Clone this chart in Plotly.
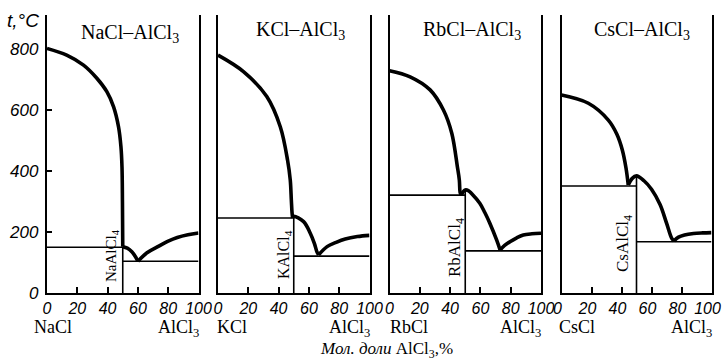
import plotly.graph_objects as go

# ---------------- data (mol % AlCl3, temperature °C) ----------------
systems = ["NaCl", "KCl", "RbCl", "CsCl"]
compounds = ["NaAlCl<sub>4</sub>", "KAlCl<sub>4</sub>", "RbAlCl<sub>4</sub>", "CsAlCl<sub>4</sub>"]
compound_x = [50, 50, 50, 50]
compound_mp = [152, 251, 338, 384]
eutectic_left_t = [150, 246, 321, 351]
eutectic_right_t = [104, 121, 138, 168]

nacl_liq_x = [0, 13, 24.1, 32.9, 39.5, 43.9, 47.2, 48.8, 49.5, 49.8, 50]
nacl_liq_t = [802, 780, 747, 704, 660, 611, 545, 480, 414, 300, 152]
nacl_cmp_x = [50, 53, 56, 58.5, 60]
nacl_cmp_t = [152, 147, 135, 118, 104]
nacl_al_x = [60, 66, 72.8, 80, 86, 93, 100]
nacl_al_t = [104, 132, 151, 170, 182, 191, 197]

kcl_liq_x = [0, 16.8, 32.2, 41.1, 45.9, 47.7, 48.4, 48.9, 49.3]
kcl_liq_t = [780, 726, 644, 545, 436, 370, 305, 262, 246]
kcl_cmp_x = [49.3, 50, 56.5, 60.9, 63.6, 65.3, 66.4]
kcl_cmp_t = [246, 251, 234, 196, 163, 135, 125]
kcl_al_x = [66.4, 72, 78, 84, 92, 100]
kcl_al_t = [125, 152, 166, 177, 185, 189]

rbcl_liq_x = [0, 13.6, 26.8, 35.6, 41.1, 44.8, 46.1, 46.6, 47.3]
rbcl_liq_t = [729, 709, 666, 600, 524, 414, 370, 330, 321]
rbcl_cmp_x = [47.3, 49, 50, 52, 54, 59.6, 63, 66.3, 70.7, 73]
rbcl_cmp_t = [321, 334, 338, 336, 327, 294, 263, 228, 174, 141]
rbcl_al_x = [73, 76, 79.5, 84, 88.3, 94, 100]
rbcl_al_t = [141, 156, 168, 181, 190, 194, 196]

cscl_liq_x = [0, 17.9, 31.2, 37, 40.5, 43, 44.5]
cscl_liq_t = [649, 622, 567, 520, 470, 410, 354]
cscl_cmp_x = [44.5, 47, 50, 55, 60, 65.7, 70.1, 73.5, 75]
cscl_cmp_t = [354, 375, 384, 368, 340, 290, 228, 179, 171]
cscl_al_x = [75, 78, 82, 88, 94, 100]
cscl_al_t = [171, 183, 190, 195, 197, 198]

liq_x = [nacl_liq_x, kcl_liq_x, rbcl_liq_x, cscl_liq_x]
liq_t = [nacl_liq_t, kcl_liq_t, rbcl_liq_t, cscl_liq_t]
cmp_x = [nacl_cmp_x, kcl_cmp_x, rbcl_cmp_x, cscl_cmp_x]
cmp_t = [nacl_cmp_t, kcl_cmp_t, rbcl_cmp_t, cscl_cmp_t]
al_x = [nacl_al_x, kcl_al_x, rbcl_al_x, cscl_al_x]
al_t = [nacl_al_t, kcl_al_t, rbcl_al_t, cscl_al_t]

x_ticks = [0, 20, 40, 60, 80, 100]
y_ticks = [0, 200, 400, 600, 800]

# ---------------- layout helpers ----------------
W, H = 722, 361
def PX(p):
    return p / W
def PY(p):
    return 1 - p / H

panel_px = [(47, 198.5), (218, 369.5), (389.5, 541), (561.5, 711.5)]
tick_shift = [0, 0, 0, -4]
bottom_px, top_px = 293, 15
ymax = (bottom_px - top_px) / 61 * 200

SANS = "Liberation Sans, Arial, sans-serif"
SERIF = "Liberation Serif, Times New Roman, serif"

fig = go.Figure()
thin = dict(color="black", width=1.6)

for i in range(4):
    xa = "x" if i == 0 else f"x{i+1}"
    ya = "y" if i == 0 else f"y{i+1}"
    cx = compound_x[i]
    fig.add_trace(go.Scatter(x=[0, cx], y=[eutectic_left_t[i]] * 2, mode="lines",
                             line=thin, xaxis=xa, yaxis=ya, showlegend=False))
    fig.add_trace(go.Scatter(x=[cx, 100], y=[eutectic_right_t[i]] * 2, mode="lines",
                             line=thin, xaxis=xa, yaxis=ya, showlegend=False))
    fig.add_trace(go.Scatter(x=[cx, cx], y=[0, compound_mp[i]], mode="lines",
                             line=thin, xaxis=xa, yaxis=ya, showlegend=False))
    for xs, ts in ((liq_x[i], liq_t[i]), (cmp_x[i], cmp_t[i]), (al_x[i], al_t[i])):
        fig.add_trace(go.Scatter(x=xs, y=ts, mode="lines",
                                 line=dict(color="black", width=3.6, shape="spline", smoothing=1.0),
                                 xaxis=xa, yaxis=ya, showlegend=False))

layout = dict(width=W, height=H, margin=dict(l=0, r=0, t=0, b=0, autoexpand=False),
              paper_bgcolor="white", plot_bgcolor="white", showlegend=False)

for i, (l, r) in enumerate(panel_px):
    xk = "xaxis" if i == 0 else f"xaxis{i+1}"
    yk = "yaxis" if i == 0 else f"yaxis{i+1}"
    ya = "y" if i == 0 else f"y{i+1}"
    xa = "x" if i == 0 else f"x{i+1}"
    layout[xk] = dict(domain=[PX(l), PX(r)], range=[0, 100], anchor=ya, automargin=False,
                      showline=True, linecolor="black", linewidth=2.4, mirror=False,
                      showgrid=False, zeroline=False, ticks="inside", ticklen=6,
                      tickwidth=1.6, tickcolor="black",
                      tickvals=x_ticks, ticktext=[str(v) for v in x_ticks],
                      tickfont=dict(family=SANS, size=16, color="black", style="italic"),
                      ticklabelstandoff=0, ticklabelshift=tick_shift[i],
                      ticklabeloverflow="allow", fixedrange=True)
    ydict = dict(domain=[PY(bottom_px), PY(top_px)], range=[0, ymax], anchor=xa, automargin=False,
                 showline=True, linecolor="black", linewidth=2.4, mirror=True,
                 showgrid=False, zeroline=False, fixedrange=True)
    if i == 0:
        ydict.update(ticks="inside", ticklen=5, tickwidth=1.6, tickcolor="black",
                     tickvals=y_ticks, ticktext=[str(v) for v in y_ticks],
                     tickfont=dict(family=SANS, size=17, color="black", style="italic"),
                     ticklabelstandoff=3, ticklabeloverflow="allow")
    else:
        ydict.update(showticklabels=False, ticks="")
    layout[yk] = ydict

fig.update_layout(**layout)

ann = []
title_pos = [(130, 33), (300, 31), (472, 31), (642, 31)]
label_pos = [(112, 255), (284, 255), (456, 248), (624, 244)]
label_sizes = [15, 16, 17, 17]
left_name_px = [32, 215, 388, 557]
for i in range(4):
    tx, ty = title_pos[i]
    ann.append(dict(x=PX(tx), y=PY(ty), xref="paper", yref="paper", showarrow=False,
                    text=f"{systems[i]}–AlCl<sub>3</sub>", xanchor="center", yanchor="middle",
                    font=dict(family=SERIF, size=20, color="black")))
    lx, ly = label_pos[i]
    ann.append(dict(x=PX(lx), y=PY(ly), xref="paper", yref="paper", showarrow=False,
                    text=compounds[i], textangle=-90, xanchor="center", yanchor="middle",
                    font=dict(family=SERIF, size=label_sizes[i], color="black")))
    l, r = panel_px[i]
    ann.append(dict(x=PX(left_name_px[i]), y=PY(327), xref="paper", yref="paper", showarrow=False,
                    text=systems[i], xanchor="left", yanchor="middle",
                    font=dict(family=SERIF, size=18, color="black")))
    ann.append(dict(x=PX(r + 2), y=PY(328), xref="paper", yref="paper", showarrow=False,
                    text="AlCl<sub>3</sub>", xanchor="right", yanchor="middle",
                    font=dict(family=SERIF, size=18, color="black")))

ann.append(dict(x=PX(23), y=PY(20), xref="paper", yref="paper", showarrow=False,
                text="t,°C", xanchor="center", yanchor="middle",
                font=dict(family=SANS, size=19, color="black", style="italic")))
ann.append(dict(x=PX(386), y=PY(350), xref="paper", yref="paper", showarrow=False,
                text="<i>Мол. доли</i> AlCl<sub>3</sub>,%",
                xanchor="center", yanchor="middle",
                font=dict(family=SERIF, size=17, color="black")))

fig.update_layout(annotations=ann)
fig.write_html("out.html", config={"displayModeBar": False},
               post_script="document.body.style.margin='0';document.body.style.padding='0';")
